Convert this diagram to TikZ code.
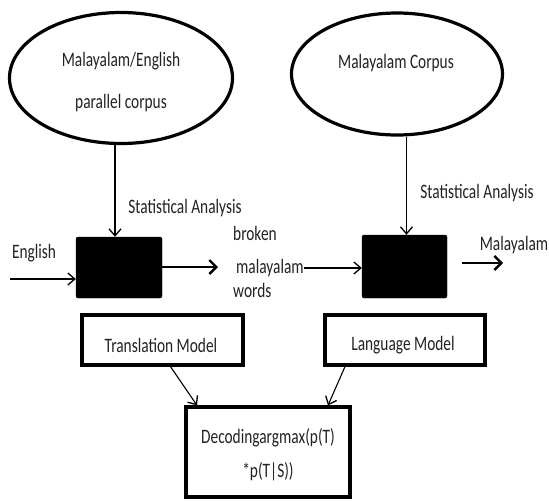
\documentclass[tikz,border=0pt]{standalone}
\usepackage{fontspec}
\setmainfont[FakeStretch=0.75]{Carlito}
\usetikzlibrary{shapes.geometric,arrows.meta}
\definecolor{txt}{HTML}{222222}
\begin{document}
\begin{tikzpicture}[x=1pt,y=-1pt,
  lbl/.style={inner sep=0pt,text=txt,font=\fontsize{20.5}{24}\selectfont},
  corpus/.style={draw,line width=3.2pt,ellipse,inner sep=0pt},
  blackbox/.style={fill=black,draw=black,rounded corners=2pt,inner sep=0pt},
  modelbox/.style={draw,line width=3.2pt,inner sep=0pt},
  arr/.style={line width=1.1pt,-{Straight Barb[length=7pt,width=12pt,line width=1.3pt]}},
  thickarr/.style={line width=2.6pt,-{Straight Barb[length=7pt,width=14pt,line width=2.4pt]}}]
\useasboundingbox (0,0) rectangle (549,501);
\fill[white] (0,0) rectangle (549,501);
% ellipses
\node[corpus,minimum width=223pt,minimum height=131pt] (ell1) at (121,78) {};
\node[lbl,align=center,font=\fontsize{20.5}{42}\selectfont] (t1) at (121,82) {Malayalam/English\\parallel corpus};
\node[corpus,minimum width=211pt,minimum height=122pt] (ell2) at (397,74) {};
\node[lbl] (t2) at (396,63) {Malayalam Corpus};
% black boxes
\node[blackbox,minimum width=86pt,minimum height=61pt] (box1) at (119,267.5) {};
\node[blackbox,minimum width=85pt,minimum height=63pt] (box2) at (404.5,266.5) {};
% model boxes
\node[modelbox,minimum width=161pt,minimum height=50pt] (tm) at (162.5,340) {};
\node[lbl] (tmt) at (161,345) {Translation Model};
\node[modelbox,minimum width=160pt,minimum height=50pt] (lm) at (405,340) {};
\node[lbl] (lmt) at (403,345) {Language Model};
\node[modelbox,minimum width=164pt,minimum height=90pt] (dec) at (268,452) {};
\node[lbl,align=center,font=\fontsize{20.5}{34}\selectfont] (dect) at (268,455) {Decodingargmax(p(T)\\*p(T|S))};
% labels
\node[lbl] (sa1) at (185,208) {Statistical Analysis};
\node[lbl] (sa2) at (477,193) {Statistical Analysis};
\node[lbl] (eng) at (34,253) {English};
\node[lbl,anchor=west] (brk) at (233,233) {broken};
\node[lbl,anchor=west] (mal) at (236,268) {malayalam};
\node[lbl,anchor=west] (wrd) at (233,290) {words};
\node[lbl] (outm) at (514,245) {Malayalam};
% coordinates
\coordinate (inE) at (10,279);
\coordinate (o1) at (218,267);
\coordinate (o2s) at (462,263);
\coordinate (o2e) at (503,263);
% connectors
\draw[arr] ([xshift=-4pt]box1.north |- ell1.south) -- ([xshift=-4pt]box1.north);
\draw[arr] ([xshift=2pt]box2.north |- ell2.south) -- ([xshift=2pt]box2.north);
\draw[arr] (inE) -- (inE -| box1.west);
\draw[thickarr] (box1.east |- o1) -- (o1);
\draw[arr] (mal.east) -- (mal.east -| box2.west);
\draw[thickarr] (o2s) -- (o2e);
\draw[arr] ([xshift=8pt]tm.south) -- ([xshift=-71pt]dec.north);
\draw[arr] ([xshift=-60pt]lm.south) -- ([xshift=60pt]dec.north);
\end{tikzpicture}
\end{document}
